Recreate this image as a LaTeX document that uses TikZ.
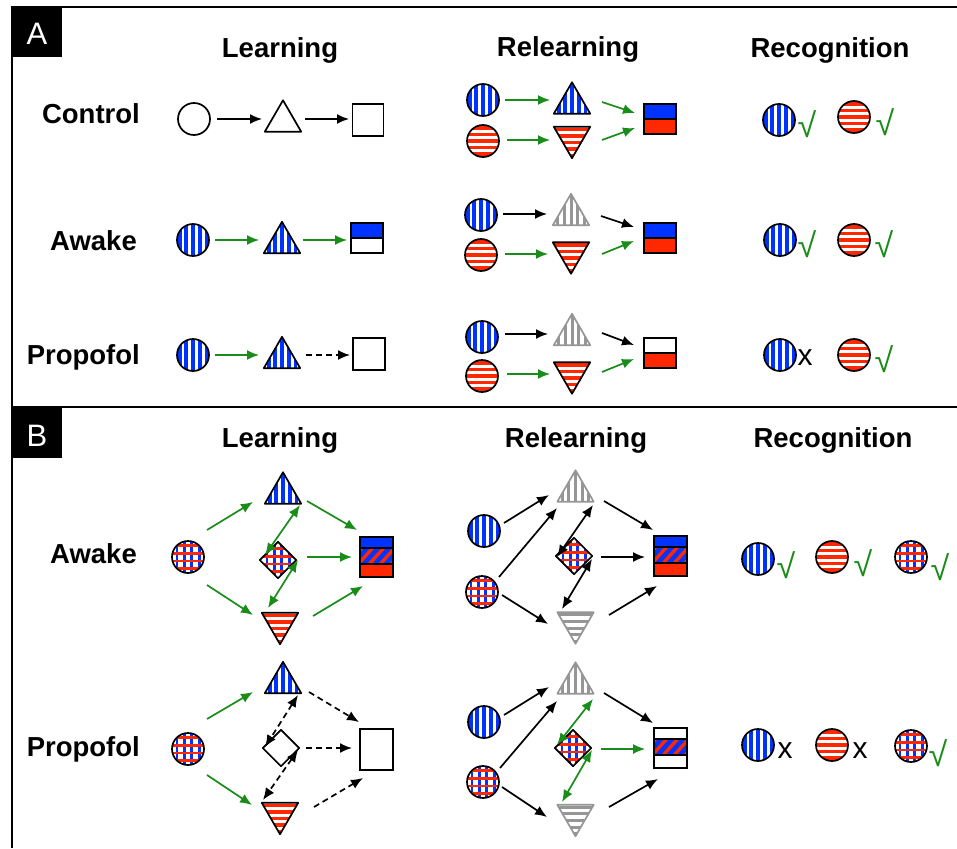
\documentclass[tikz,border=0pt]{standalone}
\usepackage{fontspec}
\setmainfont{Liberation Sans}
\usetikzlibrary{arrows.meta,calc}
\definecolor{pblue}{RGB}{0,51,255}
\definecolor{pred}{RGB}{255,40,0}
\definecolor{pgreen}{RGB}{25,140,25}
\definecolor{pgrey}{RGB}{150,150,150}

% stripe patterns (argument: node name)
\newcommand\patVB[1]{\foreach \k in {-4,...,4}{\draw[pblue,line width=3.8pt] ([xshift=\k*6.7pt]#1.center) ++(0,-30) -- ++(0,60);}}
\newcommand\patVG[1]{\foreach \k in {-4,...,4}{\draw[pgrey,line width=3pt] ([xshift=\k*6.7pt]#1.center) ++(0,-30) -- ++(0,60);}}
\newcommand\patHR[1]{\foreach \k in {-4,...,4}{\draw[pred,line width=3.6pt] ([yshift=\k*6.6pt]#1.center) ++(-30,0) -- ++(60,0);}}
\newcommand\patHG[1]{\foreach \k in {-4,...,4}{\draw[pgrey,line width=3pt] ([yshift=\k*6.6pt]#1.center) ++(-30,0) -- ++(60,0);}}
\newcommand\patXX[1]{%
  \foreach \k in {-3,...,2}{\draw[pblue,line width=2.8pt] ([xshift=\k*7.4pt+3.7pt]#1.center) ++(0,-30) -- ++(0,60);}%
  \foreach \k in {-3,...,2}{\draw[pred,line width=2.8pt] ([yshift=\k*7.8pt+3.9pt]#1.center) ++(-30,0) -- ++(60,0);}}
\newcommand\patNN[1]{}

% shapes
\newcommand\mkcirc[4]{%
  \node[circle,minimum size=32pt,inner sep=0pt] (#1) at (#2,#3) {};
  \begin{scope}\clip (#1.center) circle (16pt);
    \fill[white] (#1.center) circle (16pt); #4{#1}\end{scope}
  \draw[line width=1.7pt] (#1.center) circle (16pt);}
\newcommand\mktriu[5]{%
  \node[minimum width=36pt,minimum height=31pt,inner sep=0pt] (#1) at (#2,#3) {};
  \begin{scope}\clip (#1.south west) -- (#1.south east) -- (#1.north) -- cycle;
    \fill[white] (#1.south west) rectangle (#1.north east); #5{#1}\end{scope}
  \draw[#4,line width=1.7pt,line join=round] (#1.south west) -- (#1.south east) -- (#1.north) -- cycle;}
\newcommand\mktrid[5]{%
  \node[minimum width=36pt,minimum height=31pt,inner sep=0pt] (#1) at (#2,#3) {};
  \begin{scope}\clip (#1.north west) -- (#1.north east) -- (#1.south) -- cycle;
    \fill[white] (#1.south west) rectangle (#1.north east); #5{#1}\end{scope}
  \draw[#4,line width=1.7pt,line join=round] (#1.north west) -- (#1.north east) -- (#1.south) -- cycle;}
\newcommand\mkdiam[4]{%
  \node[minimum width=36pt,minimum height=36pt,inner sep=0pt] (#1) at (#2,#3) {};
  \begin{scope}\clip (#1.north) -- (#1.east) -- (#1.south) -- (#1.west) -- cycle;
    \fill[white] (#1.south west) rectangle (#1.north east); #4{#1}\end{scope}
  \draw[line width=1.7pt,line join=round] (#1.north) -- (#1.east) -- (#1.south) -- (#1.west) -- cycle;}
\newcommand\mkboxtwo[5]{%
  \node[minimum width=32pt,minimum height=30pt,inner sep=0pt] (#1) at (#2,#3) {};
  \fill[#4] (#1.north west) rectangle (#1.east);
  \fill[#5] (#1.west) rectangle (#1.south east);
  \draw[line width=1.7pt] (#1.west) -- (#1.east);
  \draw[line width=1.7pt] (#1.north west) rectangle (#1.south east);}
\newcommand\mkboxthree[5]{%
  \node[minimum width=33pt,minimum height=40pt,inner sep=0pt] (#1) at (#2,#3) {};
  \fill[#4] (#1.north west) rectangle ($(#1.north east)+(0,11)$);
  \begin{scope}
    \clip ($(#1.north west)+(0,11)$) rectangle ($(#1.north east)+(0,27)$);
    \fill[pblue] ($(#1.north west)+(0,11)$) rectangle ($(#1.north east)+(0,27)$);
    \foreach \k in {-3,...,3}{\draw[pred,line width=3.4pt] ($(#1.center)+(\k*11-9,9)$) -- ++(18,-20);}
  \end{scope}
  \fill[#5] ($(#1.north west)+(0,27)$) rectangle (#1.south east);
  \draw[line width=1.7pt] ($(#1.north west)+(0,11)$) -- ++(33,0);
  \draw[line width=1.7pt] ($(#1.north west)+(0,27)$) -- ++(33,0);
  \draw[line width=1.7pt] (#1.north west) rectangle (#1.south east);}

\tikzset{
  ar/.style={line width=1.7pt,-{Latex[length=12pt,width=10pt]}},
  ga/.style={ar,pgreen},
  da/.style={ar,dash pattern=on 6pt off 4pt},
  bi/.style={line width=1.7pt,{Latex[length=12pt,width=10pt]}-{Latex[length=12pt,width=10pt]}},
  gbi/.style={bi,pgreen},
  dbi/.style={bi,dash pattern=on 6pt off 4pt},
  head/.style={font=\fontsize{27.5}{33}\selectfont\bfseries,anchor=base,inner sep=0pt},
  rowlab/.style={font=\fontsize{27.5}{33}\selectfont\bfseries,anchor=base east,inner sep=0pt},
  panel/.style={font=\fontsize{31}{33}\selectfont,text=white,anchor=base,inner sep=0pt},
  chk/.style={font=\fontsize{34}{36}\selectfont,text=pgreen,inner sep=0pt},
  crs/.style={font=\fontsize{30}{30}\selectfont,inner sep=0pt},
  plain/.style={draw,line width=1.7pt,fill=white,inner sep=0pt},
}

\begin{document}
\begin{tikzpicture}[x=1pt,y=-1pt]
\useasboundingbox (0,0) rectangle (957,848);
% frame
\draw[line width=2pt] (12,848) -- (12,7) -- (957,7);
\draw[line width=2pt] (12,407) -- (957,407);
\fill (12,7) rectangle (62,57);
\fill (12,407) rectangle (62,458);
\node[panel] (pA) at (37,45) {A};
\node[panel] (pB) at (37,446) {B};

% headings
\node[head] (hA1) at (280,58) {Learning};
\node[head] (hA2) at (568,57) {Relearning};
\node[head] (hA3) at (830,58) {Recognition};
\node[head] (hB1) at (280,447) {Learning};
\node[head] (hB2) at (576,447) {Relearning};
\node[head] (hB3) at (833,447) {Recognition};
\node[rowlab] (rA1) at (140,124) {Control};
\node[rowlab] (rA2) at (137,250) {Awake};
\node[rowlab] (rA3) at (140,364) {Propofol};
\node[rowlab] (rB1) at (137,563) {Awake};
\node[rowlab] (rB2) at (140,756) {Propofol};

% ===== Panel A, Learning
\mkcirc{C0}{194}{119}{\patNN}
\mktriu{T0}{283}{116}{black}{\patNN}
\node[plain,minimum width=31pt,minimum height=32pt] (S0) at (368,120) {};
\draw[ar] ($(C0)+(23,0)$) -- ($(T0)+(-21,3)$);
\draw[ar] ($(T0)+(22,3)$) -- ($(S0)+(-19,-1)$);

\mkcirc{C1}{193}{240}{\patVB}
\mktriu{T1}{282}{237.5}{black}{\patVB}
\mkboxtwo{S1}{367}{238}{pblue}{white}
\draw[ga] ($(C1)+(22,0)$) -- ($(T1)+(-23,2.5)$);
\draw[ga] ($(T1)+(21,2.5)$) -- ($(S1)+(-20,2)$);

\mkcirc{C2}{193}{355}{\patVB}
\mktriu{T2}{282}{352.5}{black}{\patVB}
\node[plain,minimum width=32pt,minimum height=32pt] (S2) at (369,354) {};
\draw[ga] ($(C2)+(22,0)$) -- ($(T2)+(-23,2.5)$);
\draw[da] ($(T2)+(24,2.5)$) -- ($(S2)+(-19,1)$);

% ===== Panel A, Relearning
\mkcirc{BC1}{483}{100}{\patVB}
\mkcirc{RC1}{483}{141}{\patHR}
\mktriu{BT1}{572}{98}{black}{\patVB}
\mktrid{RT1}{572}{142.5}{black}{\patHR}
\mkboxtwo{X1}{660}{119}{pblue}{pred}
\draw[ga] ($(BC1)+(22,0)$) -- ($(BT1)+(-22,2)$);
\draw[ga] ($(RC1)+(24,-1)$) -- ($(RT1)+(-22,-2.5)$);
\draw[ga] ($(BT1)+(30,4)$) -- ($(X1)+(-25,-6)$);
\draw[ga] ($(RT1)+(30,-2.5)$) -- ($(X1)+(-25,9)$);

\mkcirc{BC2}{481}{215}{\patVB}
\mkcirc{RC2}{481}{255}{\patHR}
\mktriu{GT2}{571}{209.5}{pgrey}{\patVG}
\mktrid{RT2}{571}{258}{black}{\patHR}
\mkboxtwo{X2}{660}{238}{pblue}{pred}
\draw[ar] ($(BC2)+(22,-1)$) -- ($(GT2)+(-24,4.5)$);
\draw[ga] ($(RC2)+(24,-1)$) -- ($(RT2)+(-23,-4)$);
\draw[ar] ($(GT2)+(30,6.5)$) -- ($(X2)+(-26,-11)$);
\draw[ga] ($(RT2)+(31,-4)$) -- ($(X2)+(-26,3)$);

\mkcirc{BC3}{482}{337}{\patVB}
\mkcirc{RC3}{482}{376}{\patHR}
\mktriu{GT3}{572}{329.5}{pgrey}{\patVG}
\mktrid{RT3}{572}{378}{black}{\patHR}
\mkboxtwo{X3}{660}{353}{white}{pred}
\draw[ar] ($(BC3)+(23,-3)$) -- ($(GT3)+(-24,4.5)$);
\draw[ga] ($(RC3)+(25,-2)$) -- ($(RT3)+(-22,-4)$);
\draw[ar] ($(GT3)+(30,3.5)$) -- ($(X3)+(-26,-8)$);
\draw[ga] ($(RT3)+(30,-6)$) -- ($(X3)+(-26,6)$);

% ===== Panel A, Recognition
\mkcirc{R1a}{779}{120}{\patVB}
\mkcirc{R1b}{854}{117}{\patHR}
\node[chk] (k1a) at (807,124) {√};
\node[chk] (k1b) at (885,122) {√};
\mkcirc{R2a}{780}{240}{\patVB}
\mkcirc{R2b}{854}{240}{\patHR}
\node[chk] (k2a) at (807,244) {√};
\node[chk] (k2b) at (884,244) {√};
\mkcirc{R3a}{780}{355}{\patVB}
\mkcirc{R3b}{854}{355}{\patHR}
\node[crs] (k3a) at (805,358) {x};
\node[chk] (k3b) at (884,359) {√};

% ===== Panel B, Learning, Awake
\mkcirc{XC1}{188}{557}{\patXX}
\mktriu{BT4}{283}{488}{black}{\patVB}
\mkdiam{DM4}{278}{560}{\patXX}
\mktrid{RT4}{280}{628.5}{black}{\patHR}
\mkboxthree{BX4}{376.5}{557}{pblue}{pred}
\draw[ga] ($(XC1)+(19,-27)$) -- ($(BT4)+(-30,14)$);
\draw[ga] ($(XC1)+(19,28)$) -- ($(RT4)+(-27,-13.5)$);
\draw[ga] ($(BT4)+(24,13)$) -- ($(BX4)+(-19.5,-27)$);
\draw[ga] ($(DM4)+(29,-3)$) -- ($(BX4)+(-24.5,0)$);
\draw[ga] ($(RT4)+(33,-12.5)$) -- ($(BX4)+(-13.5,29)$);
\draw[gbi] ($(BT4)+(17,17)$) -- ($(DM4)+(-13,-5)$);
\draw[gbi] ($(DM4)+(20,0)$) -- ($(RT4)+(-12,-20.5)$);

% ===== Panel B, Learning, Propofol
\mkcirc{XC2}{188}{749}{\patXX}
\mktriu{BT5}{283}{677.5}{black}{\patVB}
\mkdiam{DM5}{281}{748}{\patNN}
\mktrid{RT5}{280}{818.5}{black}{\patHR}
\node[plain,minimum width=33pt,minimum height=41pt] (BX5) at (376.5,749.5) {};
\draw[ga] ($(XC2)+(19,-30)$) -- ($(BT5)+(-30,14.5)$);
\draw[ga] ($(XC2)+(19,26)$) -- ($(RT5)+(-28,-13.5)$);
\draw[da] ($(BT5)+(26,14.5)$) -- ($(BX5)+(-17.5,-27.5)$);
\draw[da] ($(DM5)+(25,0)$) -- ($(BX5)+(-24.5,-1.5)$);
\draw[da] ($(RT5)+(34,-11.5)$) -- ($(BX5)+(-13.5,28.5)$);
\draw[dbi] ($(BT5)+(15,17.5)$) -- ($(DM5)+(-16,-1)$);
\draw[dbi] ($(DM5)+(17,2)$) -- ($(RT5)+(-17,-18.5)$);

% ===== Panel B, Relearning, Awake
\mkcirc{BC6}{484}{531}{\patVB}
\mkcirc{XC6}{482}{592}{\patXX}
\mktriu{GT6}{575.5}{486}{pgrey}{\patVG}
\mkdiam{DM6}{574}{556}{\patXX}
\mktrid{GI6}{575.5}{628}{pgrey}{\patHG}
\mkboxthree{BX6}{670.5}{556}{pblue}{pred}
\draw[ar] ($(BC6)+(20,-8)$) -- ($(GT6)+(-26.5,9)$);
\draw[ar] ($(XC6)+(17,-15)$) -- ($(GT6)+(-18.5,22)$);
\draw[ar] ($(XC6)+(20,3)$) -- ($(GI6)+(-27.5,-4)$);
\draw[ar] ($(GT6)+(28.5,15)$) -- ($(BX6)+(-17.5,-26)$);
\draw[ar] ($(DM6)+(27,1)$) -- ($(BX6)+(-25.5,1)$);
\draw[ar] ($(GI6)+(33.5,-13)$) -- ($(BX6)+(-13.5,30)$);
\draw[bi] ($(GT6)+(17.5,19)$) -- ($(DM6)+(-17,1)$);
\draw[bi] ($(DM6)+(18,3)$) -- ($(GI6)+(-13.5,-19)$);

% ===== Panel B, Relearning, Propofol
\mkcirc{BC7}{484}{722}{\patVB}
\mkcirc{XC7}{483}{782}{\patXX}
\mktriu{GT7}{575.5}{678}{pgrey}{\patVG}
\mkdiam{DM7}{573}{748}{\patXX}
\mktrid{GI7}{575.5}{820.5}{pgrey}{\patHG}
\mkboxthree{BX7}{670.5}{748}{white}{white}
\draw[ar] ($(BC7)+(20,-7)$) -- ($(GT7)+(-26.5,9)$);
\draw[ar] ($(XC7)+(17,-14)$) -- ($(GT7)+(-18.5,23)$);
\draw[ar] ($(XC7)+(19,5)$) -- ($(GI7)+(-28.5,-3.5)$);
\draw[ar] ($(GT7)+(28.5,15)$) -- ($(BX7)+(-17.5,-25)$);
\draw[ar] ($(GI7)+(33.5,-13.5)$) -- ($(BX7)+(-12.5,31)$);
\draw[ga,line width=1.3pt] ($(DM7)+(28,1)$) -- ($(BX7)+(-25.5,1)$);
\draw[gbi] ($(GT7)+(17.5,21)$) -- ($(DM7)+(-16,-3)$);
\draw[gbi] ($(DM7)+(19,2)$) -- ($(GI7)+(-13.5,-18.5)$);

% ===== Panel B, Recognition
\mkcirc{RB1}{758}{559}{\patVB}
\mkcirc{RB2}{832}{557}{\patHR}
\mkcirc{RB3}{911}{557}{\patXX}
\node[chk] (kb1) at (786,565) {√};
\node[chk] (kb2) at (863,563) {√};
\node[chk] (kb3) at (940,567) {√};
\mkcirc{RB4}{758}{745}{\patVB}
\mkcirc{RB5}{832}{745}{\patHR}
\mkcirc{RB6}{911}{746}{\patXX}
\node[crs] (kb4) at (785,751) {x};
\node[crs] (kb5) at (860,751) {x};
\node[chk] (kb6) at (938,753) {√};
\end{tikzpicture}
\end{document}
